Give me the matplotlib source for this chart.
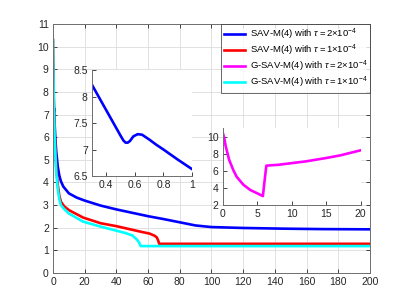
import matplotlib
matplotlib.use("Agg")
import matplotlib.pyplot as plt
from matplotlib.ticker import FuncFormatter

plt.rcParams['font.family'] = ['Liberation Sans', 'DejaVu Sans']
plt.rcParams['mathtext.fontset'] = 'custom'
plt.rcParams['mathtext.rm'] = 'Liberation Sans'
plt.rcParams['mathtext.it'] = 'Liberation Sans:italic'

# ---------------- data ----------------
labels = [r'SAV-M(4) with $\tau = 2{\times}10^{-4}$',
          r'SAV-M(4) with $\tau = 1{\times}10^{-4}$',
          r'G-SAV-M(4) with $\tau = 2{\times}10^{-4}$',
          r'G-SAV-M(4) with $\tau = 1{\times}10^{-4}$']
colors = ['#0000ff', '#ff0000', '#ff00ff', '#00ffff']

blue_t = [0, 0.3, 0.35, 0.4, 0.45, 0.5, 0.52, 0.535, 0.55, 0.565, 0.59, 0.62, 0.65, 0.7,
          0.75, 0.8, 0.85, 0.9, 0.95, 1.0, 1.5, 2, 3, 4, 5, 6.5,
          10, 15, 20, 30, 40, 50, 60, 70, 80, 90, 100, 120, 145, 170, 200]
blue_v = [9.2, 8.22, 7.98, 7.74, 7.50, 7.26, 7.17, 7.13, 7.13, 7.16, 7.25, 7.29, 7.28, 7.19,
          7.09, 7.0, 6.905, 6.81, 6.72, 6.63, 5.9, 5.4, 4.7, 4.3, 4.05, 3.82,
          3.52, 3.33, 3.2, 2.98, 2.81, 2.66, 2.51, 2.38, 2.24, 2.1, 2.03, 1.99, 1.96, 1.94, 1.93]

red_t = [0, 0.5, 1, 2, 3, 4, 5, 7, 10, 19, 30, 40, 50, 55, 61, 64, 65.4, 66.3, 67, 80, 200]
red_v = [10.3, 7.8, 6.2, 4.7, 3.9, 3.4, 3.15, 2.95, 2.78, 2.45, 2.2, 2.07, 1.91, 1.83, 1.74, 1.65, 1.58, 1.45, 1.29, 1.29, 1.29]

cyan_t = [0, 0.5, 1, 2, 3, 4, 5, 7, 10, 19, 30, 40, 46, 50, 52.8, 54.3, 55.3, 60, 200]
cyan_v = [10.3, 7.6, 6.0, 4.5, 3.7, 3.25, 3.0, 2.83, 2.63, 2.27, 2.05, 1.87, 1.76, 1.66, 1.49, 1.35, 1.19, 1.19, 1.19]

mag_t = [0, 0.2, 0.4, 0.9, 1.5, 2, 3, 4, 5, 5.8, 6.0, 6.3, 7, 8, 10, 12, 15, 17, 20]
mag_v = [10.4, 9.8, 8.9, 7.3, 6.1, 5.3, 4.35, 3.75, 3.37, 3.05, 4.5, 6.6, 6.65, 6.7, 6.9, 7.1, 7.5, 7.8, 8.4]

main_xticks = list(range(0, 201, 20))
main_yticks = list(range(0, 12))
in1_xticks = [0.4, 0.6, 0.8, 1.0]
in1_yticks = [6.5, 7, 7.5, 8, 8.5]
in2_xticks = [0, 5, 10, 15, 20]
in2_yticks = [2, 4, 6, 8, 10]

# ---------------- plotting ----------------
tc = '#262626'
lw = 1.9
fs = 7.5

fig = plt.figure(figsize=(4.09, 3.07), dpi=100)
ax = fig.add_axes([0.1296, 0.1107, 0.775, 0.811])

ax.plot(blue_t, blue_v, color=colors[0], lw=lw, label=labels[0])
ax.plot(red_t, red_v, color=colors[1], lw=lw, label=labels[1])
ax.plot([], [], color=colors[2], lw=lw, label=labels[2])
ax.plot(cyan_t, cyan_v, color=colors[3], lw=lw, label=labels[3])

ax.set_xlim(0, 200)
ax.set_ylim(0, 11)
ax.set_xticks(main_xticks)
ax.set_yticks(main_yticks)
ax.grid(True, color='#dcdcdc', lw=0.6)
ax.set_axisbelow(True)
ax.tick_params(direction='in', length=3, width=0.6, colors=tc, labelsize=fs,
               top=True, right=True, pad=3)
for s in ax.spines.values():
    s.set_color('#6e6e6e')
    s.set_linewidth(0.7)

leg = ax.legend(loc='upper right', fontsize=6.8, frameon=True, fancybox=False,
                borderaxespad=0, handlelength=2.2, handletextpad=0.5,
                labelspacing=0.08, borderpad=0.3)
leg.get_frame().set_edgecolor('#262626')
leg.get_frame().set_linewidth(0.6)

def fmt(x, pos):
    return '%g' % x

# inset 1
a1 = fig.add_axes([0.225, 0.4267, 0.2445, 0.345])
a1.plot(blue_t, blue_v, color=colors[0], lw=lw)
a1.set_xlim(0.3, 1)
a1.set_ylim(6.5, 8.5)
a1.set_xticks(in1_xticks)
a1.set_yticks(in1_yticks)
a1.xaxis.set_major_formatter(FuncFormatter(fmt))
a1.yaxis.set_major_formatter(FuncFormatter(fmt))

# inset 2
a2 = fig.add_axes([0.545, 0.332, 0.337, 0.251])
a2.plot(mag_t, mag_v, color=colors[2], lw=lw)
a2.set_xlim(0, 20)
a2.set_ylim(2, 11)
a2.set_xticks(in2_xticks)
a2.set_yticks(in2_yticks)

for a in (a1, a2):
    a.set_facecolor('white')
    a.spines['top'].set_visible(False)
    a.spines['right'].set_visible(False)
    for s in ('left', 'bottom'):
        a.spines[s].set_color('#6e6e6e')
        a.spines[s].set_linewidth(0.7)
    a.tick_params(direction='in', length=3, width=0.6, colors=tc, labelsize=fs, pad=3)

fig.savefig('out.png', dpi=100)
